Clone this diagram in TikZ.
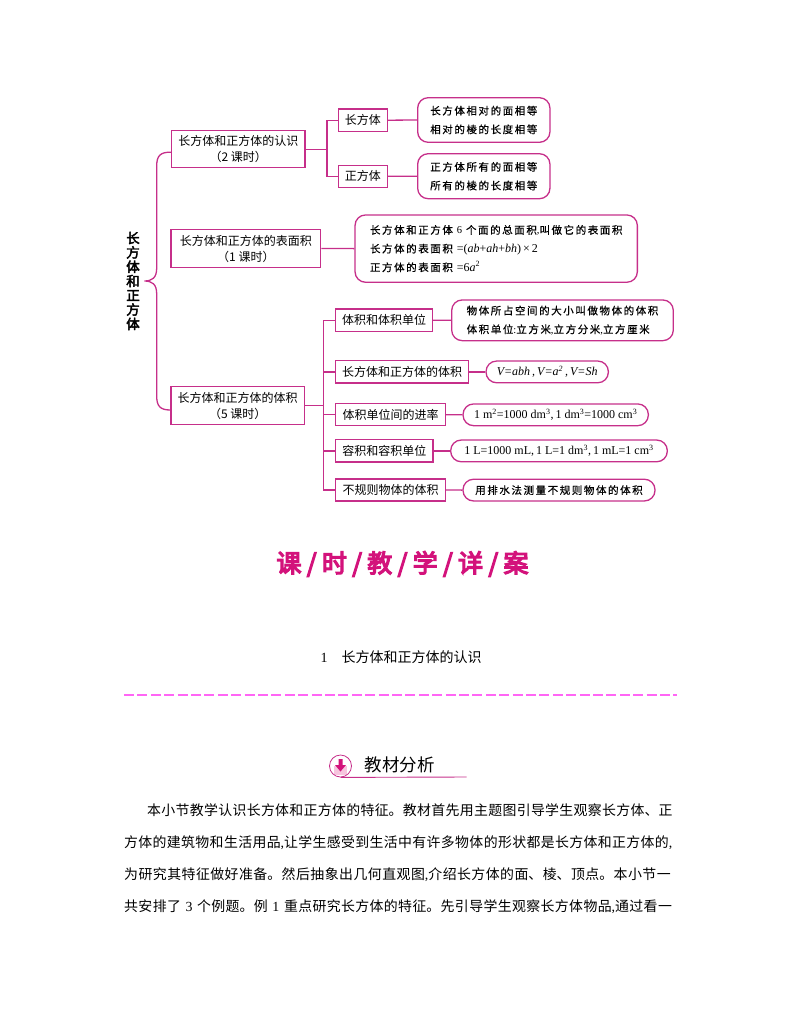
\documentclass[tikz,border=0pt]{standalone}
\usepackage{fontspec}
\setmainfont{Noto Sans CJK SC}
\newfontfamily\boldcjk[FakeBold=3]{Noto Sans CJK SC}
\newfontfamily\titlecjk[FakeBold=5]{Noto Sans CJK SC}
\newfontfamily\spaced[LetterSpace=15,FakeBold=0.5]{Noto Sans CJK SC}
\newfontfamily\latin{Liberation Serif}
\usetikzlibrary{shapes}
\usetikzlibrary{arrows}
\definecolor{rosered}{HTML}{C62F8A}
\definecolor{titlepink}{HTML}{D3127B}
\definecolor{dashpink}{HTML}{FF66F5}
\definecolor{palepink}{HTML}{F7C4DE}
\tikzstyle{link} = [draw=rosered, line width=1.3pt]
\tikzstyle{topicbox} = [draw=rosered, line width=1.3pt, align=center, inner sep=0pt, font=\fontsize{12}{16}\selectfont]
\tikzstyle{notebox} = [draw=rosered, line width=1.3pt, rounded corners=10.5pt, align=left, inner sep=0pt, font=\fontsize{10.5}{18.7}\selectfont\spaced]
\newcommand{\ttlsep}{\hspace{5.3pt}/\hspace{5.3pt}}
\newcommand{\sqr}{\textsuperscript{2}}
\newcommand{\cub}{\textsuperscript{3}}

\begin{document}
\begin{tikzpicture}[x=1pt,y=-1pt]
\useasboundingbox (0,0) rectangle (800,1028);
\node[align=center, inner sep=0pt, font=\fontsize{13.5}{14.3}\selectfont\boldcjk] (root) at (133,281) {长\\方\\体\\和\\正\\方\\体};
\node[topicbox, minimum width=133.3pt, minimum height=37pt] (know) at (238.3,149.2) {长方体和正方体的认识\\（2 课时）};
\node[topicbox, minimum width=149.7pt, minimum height=37.6pt] (surface) at (245.9,248.5) {长方体和正方体的表面积\\（1 课时）};
\node[topicbox, minimum width=133.3pt, minimum height=37.6pt] (volume) at (237.7,405.5) {长方体和正方体的体积\\（5 课时）};
\node[topicbox, minimum width=49pt, minimum height=22.3pt] (cuboid) at (362.8,120.2) {长方体};
\node[topicbox, minimum width=49pt, minimum height=22pt] (cube) at (362.8,176.3) {正方体};
\node[topicbox, minimum width=96.6pt, minimum height=22.3pt] (unit) at (384,320.2) {体积和体积单位};
\node[topicbox, minimum width=132.6pt, minimum height=22.3pt] (solid) at (402,371.9) {长方体和正方体的体积};
\node[topicbox, minimum width=109.6pt, minimum height=22pt] (rate) at (390.5,414.7) {体积单位间的进率};
\node[topicbox, minimum width=97.3pt, minimum height=22.3pt] (capacity) at (384.3,450.9) {容积和容积单位};
\node[topicbox, minimum width=109.6pt, minimum height=22pt] (irregular) at (390.5,490) {不规则物体的体积};
\node[notebox, minimum width=132.3pt, minimum height=44.6pt] (cuboidnote) at (483.8,120) {长方体相对的面相等\\相对的棱的长度相等};
\node[notebox, minimum width=132.3pt, minimum height=45pt] (cubenote) at (483.8,176.2) {正方体所有的面相等\\所有的棱的长度相等};
\node[notebox, minimum width=282.3pt, minimum height=67.3pt] (surfacenote) at (496.2,248.6) {长方体和正方体 {\latin 6} 个面的总面积{\latin ,}叫做它的表面积\\长方体的表面积 {\latin\fontsize{12}{18.7}\selectfont =(\textit{ab}+\textit{ah}+\textit{bh})\,×\,2}\\正方体的表面积 {\latin\fontsize{12}{18.7}\selectfont =6\textit{a}\sqr}};
\node[notebox, minimum width=221.6pt, minimum height=40.7pt] (unitnote) at (562.5,320.3) {物体所占空间的大小叫做物体的体积\\体积单位{\latin :}立方米{\latin ,}立方分米{\latin ,}立方厘米};
\node[notebox, minimum width=122.3pt, minimum height=21.7pt, font=\fontsize{12}{14}\selectfont\latin\itshape] (solidnote) at (547.2,371.9) {V=abh\,,\,V=a\sqr\,,\,V=Sh};
\node[notebox, minimum width=185.3pt, minimum height=21.7pt, font=\fontsize{12}{14}\selectfont\latin] (ratenote) at (555.7,414.8) {1 m\sqr=1000 dm\cub,\,1 dm\cub=1000 cm\cub};
\node[notebox, minimum width=216.6pt, minimum height=21.7pt, font=\fontsize{12}{14}\selectfont\latin] (capacitynote) at (559,450.9) {1 L=1000 mL,\,1 L=1 dm\cub,\,1 mL=1 cm\cub};
\node[notebox, minimum width=192pt, minimum height=21.7pt] (irregularnote) at (559,490.1) {用排水法测量不规则物体的体积};
\coordinate (tip) at (144.3,281);
\draw[link] ([yshift=-3pt]know.west) .. controls (160,152) and (156.7,156) .. (156.7,166) -- (156.7,268) .. controls (156.7,278) and (152,281) .. (tip) .. controls (152,281) and (156.7,284) .. (156.7,294) -- (156.7,396) .. controls (156.7,406) and (160,410) .. ([yshift=-4.5pt]volume.west);
\draw[link] (know.east) -- ++(21.3,0) coordinate (knowtrunk);
\draw[link] (cuboid.west) -| (knowtrunk) |- (cube.west);
\draw[link] (cuboid.east) -- (cuboidnote.west);
\draw[link] (cube.east) -- (cubenote.west);
\draw[link] (surface.east) -- (surfacenote.west);
\draw[link] (volume.east) -- ++(18.4,0) coordinate (volumetrunk);
\draw[link] (unit.west) -| (volumetrunk) |- (irregular.west);
\draw[link] (volumetrunk |- solid.west) -- (solid.west);
\draw[link] (volumetrunk |- rate.west) -- (rate.west);
\draw[link] (volumetrunk |- capacity.west) -- (capacity.west);
\draw[link] (unit.east) -- (unitnote.west);
\draw[link] (solid.east) -- (solidnote.west);
\draw[link] (rate.east) -- (ratenote.west);
\draw[link] (capacity.east) -- (capacitynote.west);
\draw[link] (irregular.east) -- (irregularnote.west);
\node[font=\fontsize{25}{28}\selectfont\titlecjk, text=titlepink, inner sep=0pt] (pagetitle) at (402.5,564) {课\ttlsep 时\ttlsep 教\ttlsep 学\ttlsep 详\ttlsep 案};
\node[font=\fontsize{14}{16}\selectfont, inner sep=0pt] (section) at (401,657) {{\latin 1}\hspace{14pt}长方体和正方体的认识};
\coordinate (dashstart) at (124,695);
\coordinate (dashend) at (677,695);
\draw[dashpink, line width=1.6pt, dash pattern=on 10pt off 3.4pt] (dashstart) -- (dashend);
\fill[palepink] (334,766) rectangle (347,775);
\node[circle, draw=rosered, line width=0.8pt, minimum size=22pt, inner sep=0pt] (icon) at (340.5,766) {};
\fill[titlepink] (338.5,759) -- (342.5,759) -- (342.5,765) -- (346,765) -- (340.5,771.5) -- (335,765) -- (338.5,765) -- cycle;
\coordinate (ruleend) at (466.7,777);
\draw[rosered, line width=0.9pt] (icon.south) -- (ruleend);
\node[font=\fontsize{17.5}{20}\selectfont, inner sep=0pt] (heading) at (399.5,765) {教材分析};
\node[text width=553pt, inner sep=0pt, anchor=north west, font=\fontsize{13.9}{32}\selectfont] (body) at (124,803) {\XeTeXlinebreaklocale "zh"\XeTeXlinebreakskip=0pt plus 2pt\parfillskip=0pt\parindent=23pt\leavevmode\hspace{23pt}本小节教学认识长方体和正方体的特征。教材首先用主题图引导学生观察长方体、正\linebreak 方体的建筑物和生活用品{\latin ,}让学生感受到生活中有许多物体的形状都是长方体和正方体的{\latin ,}\linebreak 为研究其特征做好准备。然后抽象出几何直观图{\latin ,}介绍长方体的面、棱、顶点。本小节一\linebreak 共安排了 {\latin 3} 个例题。例 {\latin 1} 重点研究长方体的特征。先引导学生观察长方体物品{\latin ,}通过看一\par};
\end{tikzpicture}
\end{document}
